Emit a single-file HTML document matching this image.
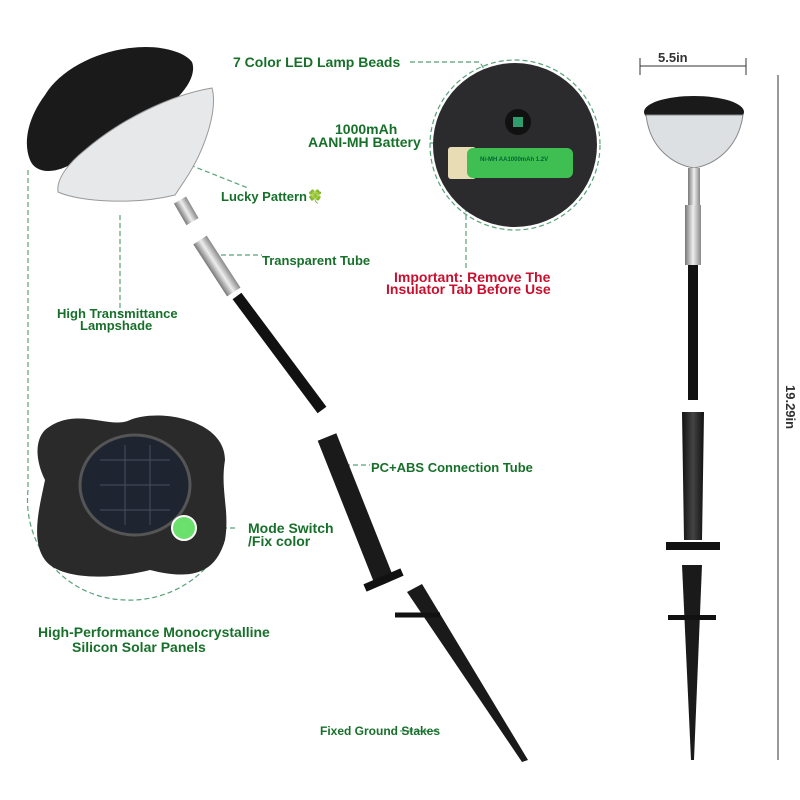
<!DOCTYPE html>
<html><head><style>
body{margin:0;background:#fff;width:800px;height:800px;overflow:hidden}
svg{display:block}
text{font-family:"Liberation Sans",sans-serif;font-weight:bold;fill:#17702a}
</style></head><body>
<svg width="800" height="800" viewBox="0 0 800 800">
<defs>
<linearGradient id="sil" x1="0" x2="1"><stop offset="0" stop-color="#777"/><stop offset=".5" stop-color="#eee"/><stop offset="1" stop-color="#888"/></linearGradient>
<linearGradient id="blk" x1="0" x2="1"><stop offset="0" stop-color="#111"/><stop offset=".5" stop-color="#444"/><stop offset="1" stop-color="#111"/></linearGradient>
</defs>
<g stroke="#2e8b57" stroke-width="1.2" stroke-dasharray="5,3" fill="none" opacity=".8">
<path d="M28 170 V490"/><path d="M120 215 V315"/><path d="M190 165 L248 188"/>
<path d="M205 255 H262"/><path d="M410 62 H480 L515 125"/><path d="M430 143 H487 V170"/>
<path d="M466 175 V270"/><path d="M345 465 H370"/><path d="M190 528 H235"/>
<path d="M400 731 H440"/>
<path d="M28 490 A100 100 0 0 0 125 600 A105 105 0 0 0 225 540"/>
<circle cx="515" cy="145" r="85"/>
</g>
<!-- top-left lamp -->
<path d="M30 160 C22 140 30 115 45 95 C60 70 95 52 130 48 C160 44 185 52 192 62 C197 75 185 95 160 112 C130 130 100 150 70 165 C50 175 35 172 30 160Z" fill="#1a1a1a"/>
<path d="M85 150 C120 120 170 95 212 88 C218 110 205 150 185 180 L175 195 C135 205 80 202 58 192 C56 178 70 162 85 150Z" fill="#e6e8ea" stroke="#999"/>
<g transform="translate(180,200) rotate(-30)"><rect x="-7" y="0" width="14" height="25" fill="url(#sil)"/></g>
<!-- diagonal pole -->
<g transform="translate(200,240) rotate(-33)"><rect x="-8" y="0" width="16" height="62" fill="url(#sil)"/></g>
<line x1="237" y1="296" x2="322" y2="410" stroke="#111" stroke-width="11"/>
<line x1="327" y1="437" x2="383" y2="578" stroke="#1a1a1a" stroke-width="20"/>
<line x1="365" y1="588" x2="402" y2="572" stroke="#111" stroke-width="8"/>
<path d="M407 592 L422 584 L528 760 L522 762Z" fill="#1a1a1a"/>
<line x1="395" y1="615" x2="440" y2="615" stroke="#111" stroke-width="5"/>
<!-- solar -->
<path d="M45 430 C75 405 110 430 130 420 C160 408 225 420 225 460 C220 490 230 510 225 540 C215 575 190 580 150 570 C110 580 60 580 45 560 C30 540 40 505 45 480 C35 460 35 440 45 430Z" fill="#2a2a2a"/>
<ellipse cx="135" cy="485" rx="55" ry="50" fill="#1f2530" stroke="#555" stroke-width="3"/>
<g stroke="#44505e" stroke-width="1"><path d="M100 460 H170 M100 485 H170 M100 510 H170 M125 445 V525 M150 445 V525"/></g>
<circle cx="184" cy="528" r="12" fill="#6ce06c" stroke="#fff" stroke-width="2"/>
<!-- battery circle -->
<circle cx="515" cy="145" r="82" fill="#2b2b2d"/>
<circle cx="518" cy="122" r="13" fill="#111"/><rect x="513" y="117" width="10" height="10" fill="#2e9e6e"/>
<rect x="448" y="147" width="28" height="32" rx="3" fill="#e8dcb4"/>
<rect x="467" y="148" width="106" height="30" rx="6" fill="#3fbf52"/>
<text x="480" y="161" font-size="6" style="fill:#063">Ni-MH AA1000mAh 1.2V</text>
<!-- right lamp -->
<ellipse cx="694" cy="112" rx="50" ry="16" fill="#1a1a1a"/>
<path d="M646 115 C650 150 675 165 694 168 C713 165 738 150 743 115Z" fill="#dde0e2" stroke="#888"/>
<rect x="688" y="168" width="12" height="40" fill="url(#sil)"/>
<rect x="685" y="205" width="16" height="60" fill="url(#sil)"/>
<rect x="688" y="265" width="10" height="135" fill="#111"/>
<path d="M682 412 H704 L702 540 H684Z" fill="url(#blk)"/>
<rect x="666" y="542" width="54" height="8" fill="#111"/>
<path d="M682 565 H702 L694 760 H691Z" fill="#1a1a1a"/>
<rect x="668" y="615" width="48" height="5" fill="#111"/>
<g stroke="#333" stroke-width="1"><path d="M640 58 V75 M746 58 V75 M640 66 H746 M778 75 V760"/></g>
<!-- labels -->
<text x="233" y="67" font-size="14">7 Color LED Lamp Beads</text>
<text x="335" y="134" font-size="14">1000mAh</text>
<text x="308" y="147" font-size="14">AANI-MH Battery</text>
<text x="221" y="201" font-size="13">Lucky Pattern🍀</text>
<text x="262" y="265" font-size="13">Transparent Tube</text>
<text x="394" y="282" font-size="14" style="fill:#c8102e">Important: Remove The</text>
<text x="386" y="294" font-size="14" style="fill:#c8102e">Insulator Tab Before Use</text>
<text x="57" y="318" font-size="13">High Transmittance</text>
<text x="80" y="330" font-size="13">Lampshade</text>
<text x="371" y="472" font-size="13">PC+ABS Connection Tube</text>
<text x="248" y="533" font-size="14">Mode Switch</text>
<text x="248" y="546" font-size="14">/Fix color</text>
<text x="38" y="637" font-size="14">High-Performance Monocrystalline</text>
<text x="72" y="652" font-size="14">Silicon Solar Panels</text>
<text x="320" y="735" font-size="12">Fixed Ground Stakes</text>
<text x="658" y="62" font-size="13" style="fill:#333">5.5in</text>
<text x="0" y="0" font-size="13" style="fill:#333" transform="translate(786,385) rotate(90)">19.29in</text>
</svg>
</body></html>
